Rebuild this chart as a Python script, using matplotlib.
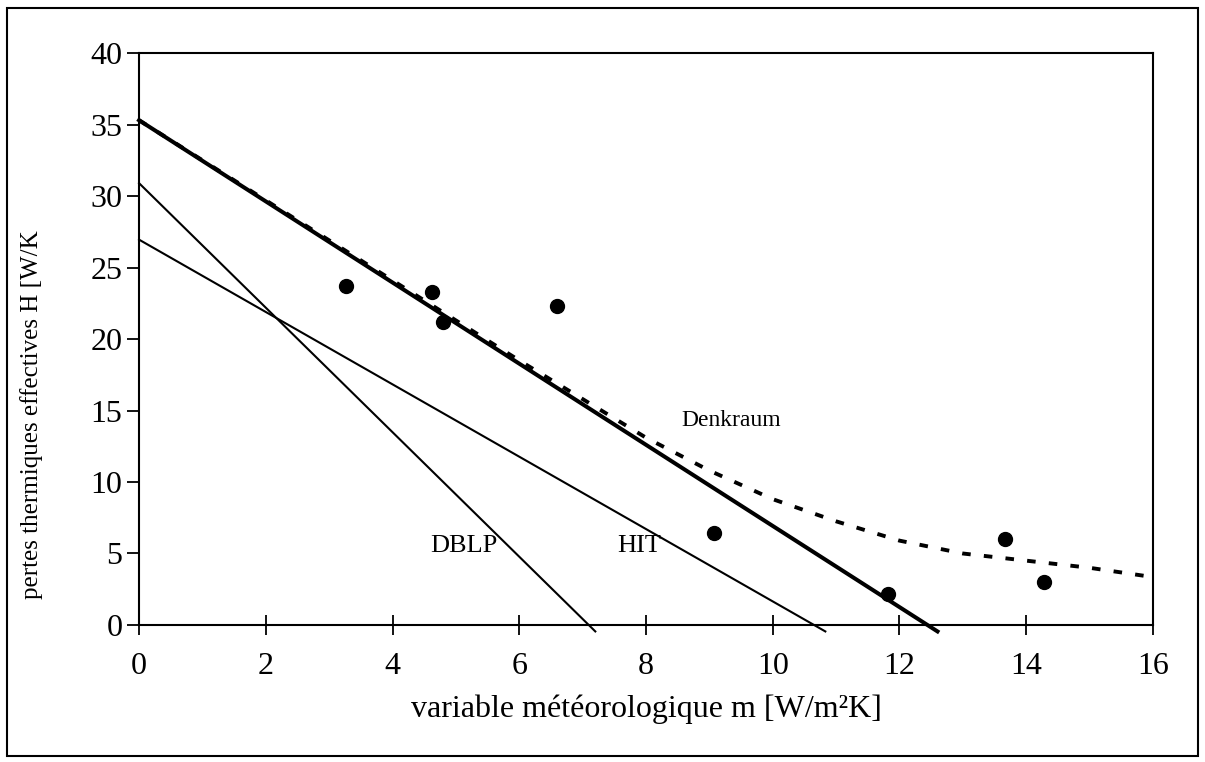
import matplotlib
matplotlib.use('Agg')
import matplotlib.pyplot as plt
from matplotlib.patches import Rectangle

plt.rcParams['font.family'] = ['Liberation Serif', 'DejaVu Serif']

# measured points
m_pts = [3.27, 4.63, 4.79, 6.59, 9.08, 11.82, 13.67, 14.28]
h_pts = [23.7, 23.3, 21.2, 22.3, 6.4, 2.2, 6.0, 3.0]

# Denkraum model (dashed)
m_dk = [0, 1, 2, 3, 4, 5, 6, 7, 8, 9, 10, 11, 12, 13, 14, 15, 16]
h_dk = [35.3, 32.5, 29.7, 26.9, 24.1, 21.3, 18.5, 15.8, 13.1, 10.8, 8.8, 7.25, 5.9, 5.0, 4.5, 4.0, 3.35]

# straight lines (end points)
fit_x = [0, 12.6]
fit_y = [35.3, -0.45]
dblp_x = [0, 7.2]
dblp_y = [30.9, -0.45]
hit_x = [0, 10.83]
hit_y = [26.95, -0.45]

fig = plt.figure(figsize=(12.05, 7.62), dpi=100)
ax = fig.add_axes([0.1154, 0.1798, 0.8414, 0.7506])

ax.plot(fit_x, fit_y, color='black', lw=2.9, clip_on=False, zorder=3)
ax.plot(dblp_x, dblp_y, color='black', lw=1.5, clip_on=False)
ax.plot(hit_x, hit_y, color='black', lw=1.5, clip_on=False)
ax.plot(m_dk, h_dk, color='black', lw=2.8, linestyle=(0, (2.2, 3.4)), zorder=4)
ax.plot(m_pts, h_pts, 'o', color='black', ms=10, zorder=5)

ax.text(9.34, 14.3, 'Denkraum', fontsize=17, ha='center', va='center')
ax.text(5.12, 5.5, 'DBLP', fontsize=19, ha='center', va='center')
ax.text(7.9, 5.5, 'HIT', fontsize=19, ha='center', va='center')

ax.set_xlim(0, 16)
ax.set_ylim(0, 40)
ax.set_xticks(range(0, 17, 2))
ax.set_yticks(range(0, 41, 5))
ax.tick_params(axis='x', direction='inout', length=15, width=1.3, labelsize=23, pad=12)
ax.tick_params(axis='y', direction='out', length=9, width=1.3, labelsize=23, pad=3)
for s in ax.spines.values():
    s.set_linewidth(1.5)

ax.set_xlabel('variable météorologique m [W/m²K]', fontsize=23, labelpad=10)
fig.text(0.026, 0.456, 'pertes thermiques effectives H [W/K', fontsize=18,
         rotation=90, ha='center', va='center')

fig.patches.append(Rectangle((0.006, 0.008), 0.988, 0.982, transform=fig.transFigure,
                             fill=False, lw=1.5, edgecolor='black'))

plt.savefig('out.png', dpi=100)
plt.close()
